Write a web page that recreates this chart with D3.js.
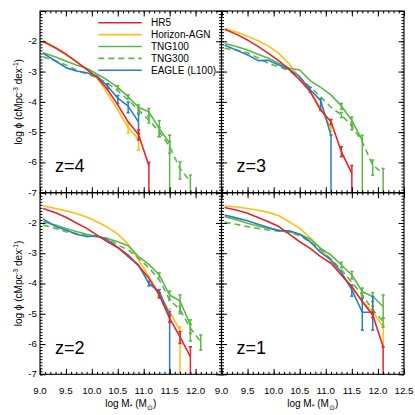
<!DOCTYPE html>
<html><head><meta charset="utf-8">
<script src="https://cdn.jsdelivr.net/npm/d3@7"></script>
<style>
html,body{margin:0;padding:0;background:#fff;}
svg{display:block;font-family:"Liberation Sans",Arial,Helvetica,sans-serif;}
</style></head>
<body>
<svg id="chart" width="415" height="415"></svg>
<script>
// ---------- data ----------
const massBins = [9.06, 9.3, 9.5, 9.7, 9.9, 10.1, 10.3, 10.5, 10.7, 10.9, 11.1, 11.3, 11.5, 11.7, 11.9, 12.1];
const seriesNames = ["HR5", "Horizon-AGN", "TNG100", "TNG300", "EAGLE (L100)"];
const seriesColors = ["#e8232b", "#fcc016", "#5bb747", "#5bb747", "#2a7dc2"];
const seriesDash = [null, null, null, "6,4", null];
const redshiftLabels = ["z=4", "z=3", "z=2", "z=1"];
const xTickLabels = [9.0, 9.5, 10.0, 10.5, 11.0, 11.5, 12.0, 12.5];
const yTickLabels = [-2, -3, -4, -5, -6, -7];

// log phi per mass bin (null = no value)
const hr5_z4  = [-2.01,-2.22,-2.43,-2.67,-2.93,-3.19,-3.59,-4.10,-4.66,-5.08,-6.11,null,null,null,null,null];
const hagn_z4 = [-1.98,-2.20,-2.42,-2.66,-2.93,-3.21,-3.72,-4.27,-4.85,-5.24,null,null,null,null,null,null];
const tng100_z4 = [-2.38,-2.52,-2.65,-2.78,-2.89,-3.08,-3.28,-3.52,-3.83,-4.18,-4.33,-4.88,-5.37,null,null,null];
const tng300_z4 = [-2.51,-2.65,-2.78,-2.95,-3.08,-3.20,-3.39,-3.63,-3.94,-4.27,-4.60,-4.99,-5.48,-6.20,-6.64,null];
const eagle_z4 = [-2.40,-2.65,-2.87,-2.98,-3.04,-3.15,-3.48,-3.88,-4.14,-4.66,null,null,null,null,null,null];

const hr5_z3  = [-1.60,-1.78,-1.96,-2.17,-2.40,-2.65,-2.93,-3.28,-3.66,-4.27,-4.66,-5.65,-6.36,null,null,null];
const hagn_z3 = [-1.58,-1.70,-1.83,-1.98,-2.16,-2.40,-2.75,-3.20,-3.63,-4.21,-4.87,null,null,null,null,null];
const tng100_z3 = [-2.07,-2.18,-2.29,-2.43,-2.56,-2.73,-2.89,-2.95,-3.30,-3.52,-3.77,-4.14,-4.62,-5.26,null,null];
const tng300_z3 = [-2.23,-2.30,-2.38,-2.55,-2.73,-2.84,-2.98,-3.19,-3.52,-3.83,-4.18,-4.43,-4.80,-5.32,-6.09,-6.36];
const eagle_z3 = [-2.13,-2.30,-2.45,-2.64,-2.63,-2.78,-2.93,-3.17,-3.60,-3.95,-5.10,null,null,null,null,null];

const hr5_z2  = [-1.52,-1.66,-1.81,-2.00,-2.18,-2.40,-2.62,-2.81,-3.06,-3.41,-3.83,-4.38,-5.15,-5.76,-6.42,null];
const hagn_z2 = [-1.43,-1.52,-1.60,-1.69,-1.80,-1.96,-2.14,-2.37,-2.70,-3.22,-3.77,-4.38,-4.93,-5.54,null,null];
const tng100_z2 = [-1.96,-2.07,-2.18,-2.28,-2.37,-2.45,-2.51,-2.62,-2.75,-3.11,-3.37,-3.72,-4.38,-4.58,-5.37,null];
const tng300_z2 = [-2.07,-2.18,-2.29,-2.35,-2.40,-2.46,-2.51,-2.73,-2.89,-3.17,-3.48,-3.88,-4.54,-4.87,-5.48,-5.92];
const eagle_z2 = [-1.87,-2.12,-2.23,-2.37,-2.45,-2.42,-2.56,-2.81,-3.11,-3.39,-4.00,-4.27,-5.04,null,null,null];

const hr5_z1  = [-1.49,-1.58,-1.68,-1.82,-1.96,-2.12,-2.37,-2.62,-2.84,-3.11,-3.33,-3.72,-4.10,-4.60,-5.04,-6.09];
const hagn_z1 = [-1.43,-1.47,-1.52,-1.58,-1.65,-1.76,-1.96,-2.18,-2.48,-2.84,-3.26,-3.72,-4.16,-4.58,-4.93,-5.43];
const tng100_z1 = [-1.79,-1.90,-2.01,-2.10,-2.18,-2.23,-2.29,-2.37,-2.53,-2.84,-3.06,-3.39,-3.72,-4.27,-4.43,-4.76];
const tng300_z1 = [-1.98,-2.05,-2.12,-2.18,-2.23,-2.27,-2.31,-2.42,-2.62,-2.89,-3.19,-3.55,-3.96,-4.38,-4.87,-5.26];
const eagle_z1 = [-1.74,-1.84,-1.93,-2.04,-2.15,-2.26,-2.26,-2.37,-2.62,-2.97,-3.22,-3.63,-4.21,-4.95,-4.95,null];

// error bars: [logM, upper, lower]
const hr5_err_z4 = [[10.9,-4.93,-5.26],[11.1,-6.0,-7]];
const hagn_err_z4 = [[10.7,-4.66,-5.04],[10.9,-5.04,-5.6]];
const tng100_err_z4 = [[10.5,-3.47,-3.58],[10.7,-3.77,-3.9],[10.9,-4.1,-4.27],[11.1,-4.22,-4.45],[11.3,-4.62,-5.15],[11.5,-5.1,-7]];
const tng300_err_z4 = [[10.9,-4.2,-4.35],[11.1,-4.5,-4.7],[11.3,-4.85,-5.15],[11.5,-5.3,-5.7],[11.7,-5.98,-6.55],[11.9,-6.42,-7]];
const eagle_err_z4 = [[10.3,-3.4,-3.56],[10.5,-3.79,-4.06],[10.7,-4.0,-4.36],[10.9,-4.4,-5.04]];

const hr5_err_z3 = [[11.1,-4.58,-4.75],[11.3,-5.48,-5.81],[11.5,-6.1,-7]];
const hagn_err_z3 = [[10.9,-4.15,-4.3],[11.1,-4.71,-4.98]];
const tng100_err_z3 = [[11.3,-4.05,-4.25],[11.5,-4.5,-4.78],[11.7,-5.1,-7]];
const tng300_err_z3 = [[11.3,-4.35,-4.52],[11.5,-4.68,-4.93],[11.9,-5.92,-6.42],[12.1,-6.2,-7]];
const eagle_err_z3 = [[10.7,-3.52,-3.68],[10.9,-3.9,-4.27],[11.1,-5.1,-7]];

const hr5_err_z2 = [[11.3,-4.3,-4.48],[11.5,-5.05,-5.28],[11.7,-5.59,-5.98],[11.9,-6.09,-7]];
const hagn_err_z2 = [[11.5,-4.85,-5.05],[11.7,-5.43,-7]];
const tng100_err_z2 = [[11.3,-3.65,-3.8],[11.5,-4.25,-4.55],[11.7,-4.38,-4.93],[11.9,-5.2,-5.9]];
const tng300_err_z2 = [[11.7,-4.75,-5.0],[11.9,-5.35,-5.65],[12.1,-5.7,-6.2]];
const eagle_err_z2 = [[11.1,-3.93,-4.08],[11.3,-4.2,-4.42],[11.5,-4.93,-7]];

const hr5_err_z1 = [[11.9,-4.95,-5.13],[12.1,-6.09,-7]];
const hagn_err_z1 = [[11.9,-4.85,-5.02],[12.1,-5.37,-6.09]];
const tng100_err_z1 = [[11.3,-3.3,-3.48],[11.5,-3.6,-3.85],[11.7,-4.15,-4.4],[11.9,-4.3,-4.6],[12.1,-4.38,-5.15]];
const tng300_err_z1 = [[11.7,-4.3,-4.45],[11.9,-4.75,-5.0],[12.1,-5.15,-5.45]];
const eagle_err_z1 = [[11.5,-4.05,-4.42],[11.7,-4.49,-5.54],[11.9,-4.43,-5.54]];

// ---------- layout ----------
const panels = [
  {label: redshiftLabels[0], col:0, row:0, vals:[hr5_z4,hagn_z4,tng100_z4,tng300_z4,eagle_z4], errs:[hr5_err_z4,hagn_err_z4,tng100_err_z4,tng300_err_z4,eagle_err_z4]},
  {label: redshiftLabels[1], col:1, row:0, vals:[hr5_z3,hagn_z3,tng100_z3,tng300_z3,eagle_z3], errs:[hr5_err_z3,hagn_err_z3,tng100_err_z3,tng300_err_z3,eagle_err_z3]},
  {label: redshiftLabels[2], col:0, row:1, vals:[hr5_z2,hagn_z2,tng100_z2,tng300_z2,eagle_z2], errs:[hr5_err_z2,hagn_err_z2,tng100_err_z2,tng300_err_z2,eagle_err_z2]},
  {label: redshiftLabels[3], col:1, row:1, vals:[hr5_z1,hagn_z1,tng100_z1,tng300_z1,eagle_z1], errs:[hr5_err_z1,hagn_err_z1,tng100_err_z1,tng300_err_z1,eagle_err_z1]}
];
const colEdges = [40, 221.5, 404];
const rowEdges = [11, 192.7, 374.3];
const xScales = [0,1].map(c => d3.scaleLinear().domain([9, 12.5]).range([colEdges[c], colEdges[c+1]]));
const yScales = [0,1].map(r => d3.scaleLinear().domain([-7, -1]).range([rowEdges[r+1], rowEdges[r]]));

const svg = d3.select("#chart");
const drawOrder = [1, 3, 2, 4, 0];
const fmt = d3.format(".1f");

panels.forEach(p => {
  const x = xScales[p.col], y = yScales[p.row];
  const g = svg.append("g");
  const x0 = x.range()[0], x1 = x.range()[1], y0 = y.range()[1], y1 = y.range()[0];

  // series
  drawOrder.forEach(si => {
    const pts = massBins.map((m, i) => ({m, v: p.vals[si][i]}));
    const line = d3.line().defined(d => d.v !== null).x(d => x(d.m)).y(d => y(d.v));
    g.append("path").datum(pts).attr("d", line)
      .attr("fill", "none").attr("stroke", seriesColors[si]).attr("stroke-width", 1.6)
      .attr("stroke-linejoin", "round")
      .attr("stroke-dasharray", seriesDash[si]);
    const eg = g.append("g").attr("stroke", seriesColors[si]).attr("stroke-width", 1.5);
    p.errs[si].forEach(e => {
      const ex = x(e[0]), ya = y(e[1]), yb = y(Math.max(e[2], -7));
      eg.append("line").attr("x1", ex).attr("x2", ex).attr("y1", ya).attr("y2", yb);
      eg.append("line").attr("x1", ex-1.6).attr("x2", ex+1.6).attr("y1", ya).attr("y2", ya);
      if (e[2] > -7) eg.append("line").attr("x1", ex-1.6).attr("x2", ex+1.6).attr("y1", yb).attr("y2", yb);
    });
  });

  // ticks (inward, all four sides)
  const xMajor = d3.range(9, 12.51, 0.5);
  const xMinor = d3.range(90, 126, 1).map(v => v/10);
  const yMajor = d3.range(-7, -0.99, 1);
  const yMinor = d3.range(-70, -9, 1).map(v => v/10);
  const addAxis = (axis, tx, ty) => {
    const a = g.append("g").attr("transform", `translate(${tx},${ty})`).call(axis);
    a.select(".domain").remove();
    a.selectAll("line").attr("stroke", "#000").attr("stroke-width", 1);
  };
  [[xMinor, 2.5], [xMajor, 5.5]].forEach(([vals, len]) => {
    addAxis(d3.axisBottom(x).tickValues(vals).tickSize(-len).tickFormat(""), 0, y1);
    addAxis(d3.axisTop(x).tickValues(vals).tickSize(-len).tickFormat(""), 0, y0);
  });
  [[yMinor, 2.5], [yMajor, 5.5]].forEach(([vals, len]) => {
    addAxis(d3.axisLeft(y).tickValues(vals).tickSize(-len).tickFormat(""), x0, 0);
    addAxis(d3.axisRight(y).tickValues(vals).tickSize(-len).tickFormat(""), x1, 0);
  });

  // frame
  g.append("rect").attr("x", x0).attr("y", y0).attr("width", x1-x0).attr("height", y1-y0)
    .attr("fill", "none").attr("stroke", "#000").attr("stroke-width", 1.1);

  // redshift label
  g.append("text").attr("x", x0 + 15).attr("y", y1 - 20.5)
    .attr("font-size", 18).attr("fill", "#000").text(p.label);

  // tick labels
  if (p.row === 1) {
    const vals = p.col === 0 ? xTickLabels.slice(0, -1) : xTickLabels;
    g.selectAll(null).data(vals).enter().append("text")
      .attr("x", d => x(d)).attr("y", y1 + 20)
      .attr("text-anchor", "middle").attr("font-size", 9.8).text(d => fmt(d));
    const xt = g.append("text").attr("x", (x0+x1)/2).attr("y", y1 + 33)
      .attr("text-anchor", "middle").attr("font-size", 10);
    xt.append("tspan").text("log M");
    xt.append("tspan").attr("font-size", 7).attr("dy", 2).text("*");
    xt.append("tspan").attr("dy", -2).text(" (M");
    xt.append("tspan").attr("font-size", 7).attr("dy", 2.5).text("⊙");
    xt.append("tspan").attr("dy", -2.5).text(")");
  }
  if (p.col === 0) {
    g.selectAll(null).data(yTickLabels).enter().append("text")
      .attr("x", x0 - 3).attr("y", d => y(d)).attr("dy", "0.3em")
      .attr("text-anchor", "end").attr("font-size", 9.8).text(d => String(d));
    const yt = g.append("text").attr("transform", `translate(22,${(y0+y1)/2}) rotate(-90)`)
      .attr("text-anchor", "middle").attr("font-size", 10);
    yt.append("tspan").text("log ϕ (cMpc");
    yt.append("tspan").attr("font-size", 6.5).attr("dy", -4).text("-3");
    yt.append("tspan").attr("dy", 4).text(" dex");
    yt.append("tspan").attr("font-size", 6.5).attr("dy", -4).text("-1");
    yt.append("tspan").attr("dy", 4).text(")");
  }

  // legend (first panel only)
  if (p.col === 0 && p.row === 0) {
    const lg = g.append("g");
    seriesNames.forEach((name, i) => {
      const ly = 22.7 + i * 11.9;
      lg.append("line").attr("x1", 98.3).attr("x2", 141.7).attr("y1", ly).attr("y2", ly)
        .attr("stroke", seriesColors[i]).attr("stroke-width", 1.6)
        .attr("stroke-dasharray", seriesDash[i]);
      lg.append("text").attr("x", 151).attr("y", ly).attr("dy", "0.35em")
        .attr("font-size", 10).text(name);
    });
  }
});
</script>
</body></html>
